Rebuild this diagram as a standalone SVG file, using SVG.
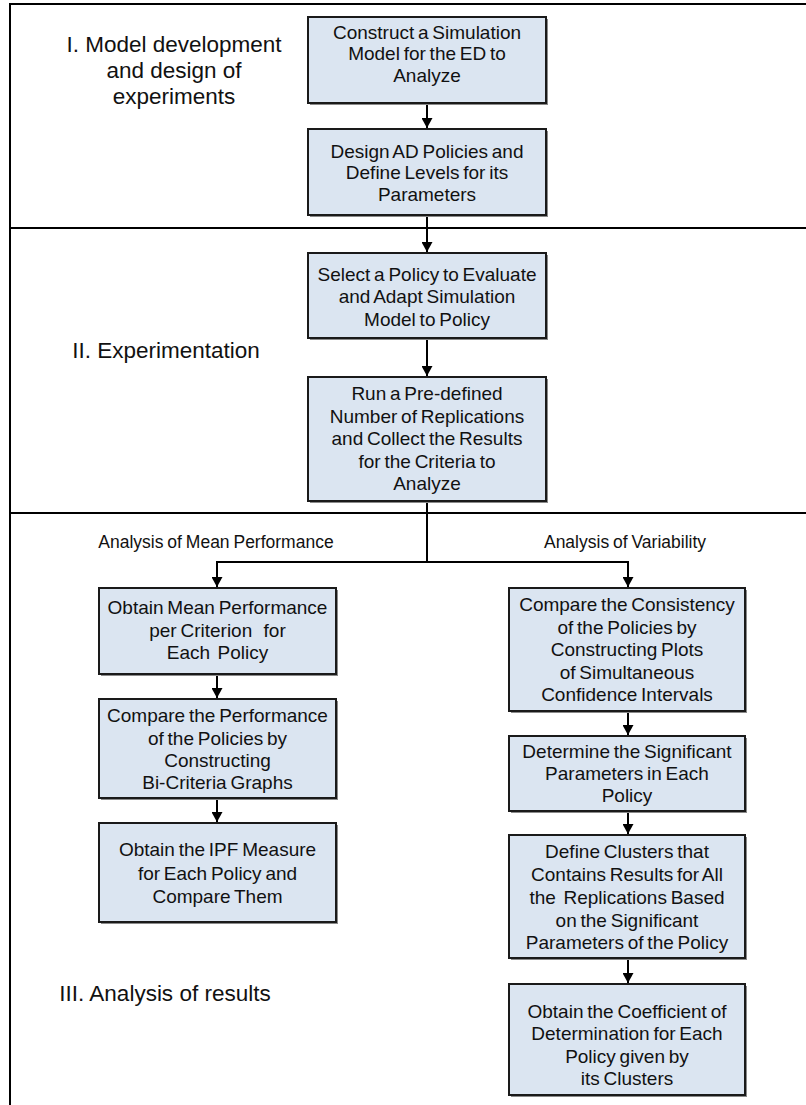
<svg xmlns="http://www.w3.org/2000/svg" width="806" height="1105" viewBox="0 0 806 1105">
  <defs>
    <marker id="arrow" viewBox="0 0 10 11" refX="10" refY="5.5" markerWidth="10" markerHeight="11" markerUnits="userSpaceOnUse" orient="auto">
      <path d="M0,0 L10,5.5 L0,11 Z" fill="#000"/>
    </marker>
    <style>
      .frame { stroke: #000; stroke-width: 2; fill: none; }
      .box { fill: #dbe5f1; stroke: #1a1a1a; stroke-width: 2; }
      .shadow { fill: #8a8a8a; }
      .txt { font-family: "Liberation Sans", Arial, sans-serif; font-size: 19px; word-spacing: -1.5px; fill: #111; text-anchor: middle; }
      .phase { font-family: "Liberation Sans", Arial, sans-serif; font-size: 22.5px; fill: #111; text-anchor: middle; }
      .sub { font-family: "Liberation Sans", Arial, sans-serif; font-size: 17.5px; word-spacing: -1px; fill: #111; text-anchor: middle; }
      .conn { stroke: #000; stroke-width: 2; fill: none; }
    </style>
  </defs>

  <rect width="806" height="1105" fill="#fff"/>

  <!-- outer frame and phase dividers -->
  <g id="frame">
    <line class="frame" x1="10" y1="4" x2="806" y2="4"/>
    <line class="frame" x1="10" y1="3" x2="10" y2="1105"/>
    <line class="frame" x1="9" y1="228" x2="806" y2="228"/>
    <line class="frame" x1="9" y1="513" x2="806" y2="513"/>
  </g>

  <!-- phase labels -->
  <g id="phase-1">
    <text class="phase" x="174" y="52">I. Model development</text>
    <text class="phase" x="174" y="78">and design of</text>
    <text class="phase" x="174" y="104">experiments</text>
  </g>
  <g id="phase-2">
    <text class="phase" x="166" y="358">II. Experimentation</text>
  </g>
  <g id="phase-3">
    <text class="phase" x="165" y="1001">III. Analysis of results</text>
  </g>
  <g id="branch-labels">
    <text class="sub" x="216" y="548">Analysis of Mean Performance</text>
    <text class="sub" x="625" y="548">Analysis of Variability</text>
  </g>

  <!-- connectors -->
  <g id="connectors">
    <line class="conn" x1="427" y1="103" x2="427" y2="128" marker-end="url(#arrow)"/>
    <line class="conn" x1="427" y1="215" x2="427" y2="252" marker-end="url(#arrow)"/>
    <line class="conn" x1="427" y1="338" x2="427" y2="376" marker-end="url(#arrow)"/>
    <polyline class="conn" points="427,501 427,562"/>
    <polyline class="conn" points="217,562 628,562"/>
    <line class="conn" x1="217" y1="561" x2="217" y2="587" marker-end="url(#arrow)"/>
    <line class="conn" x1="628" y1="561" x2="628" y2="587" marker-end="url(#arrow)"/>
    <line class="conn" x1="217" y1="674" x2="217" y2="698" marker-end="url(#arrow)"/>
    <line class="conn" x1="217" y1="798" x2="217" y2="822" marker-end="url(#arrow)"/>
    <line class="conn" x1="628" y1="711" x2="628" y2="735" marker-end="url(#arrow)"/>
    <line class="conn" x1="628" y1="811" x2="628" y2="834" marker-end="url(#arrow)"/>
    <line class="conn" x1="628" y1="958" x2="628" y2="983" marker-end="url(#arrow)"/>
  </g>

  <!-- phase I -->
  <g id="construct-model">
    <rect class="shadow" x="310" y="19" width="238" height="86"/>
    <rect class="box" x="308" y="17" width="238" height="86"/>
    <text class="txt" x="427" y="38.5">Construct a Simulation</text>
    <text class="txt" x="427" y="59.5">Model for the ED to</text>
    <text class="txt" x="427" y="81.5">Analyze</text>
  </g>
  <g id="design-policies">
    <rect class="shadow" x="310" y="131" width="238" height="86"/>
    <rect class="box" x="308" y="129" width="238" height="86"/>
    <text class="txt" x="427" y="158">Design AD Policies and</text>
    <text class="txt" x="427" y="179">Define Levels for its</text>
    <text class="txt" x="427" y="201">Parameters</text>
  </g>

  <!-- phase II -->
  <g id="select-policy">
    <rect class="shadow" x="310" y="255" width="238" height="85"/>
    <rect class="box" x="308" y="253" width="238" height="85"/>
    <text class="txt" x="427" y="281">Select a Policy to Evaluate</text>
    <text class="txt" x="427" y="303">and Adapt Simulation</text>
    <text class="txt" x="427" y="326">Model to Policy</text>
  </g>
  <g id="run-replications">
    <rect class="shadow" x="310" y="379" width="238" height="124"/>
    <rect class="box" x="308" y="377" width="238" height="124"/>
    <text class="txt" x="427" y="400">Run a Pre-defined</text>
    <text class="txt" x="427" y="422.5">Number of Replications</text>
    <text class="txt" x="427" y="445">and Collect the Results</text>
    <text class="txt" x="427" y="467.5">for the Criteria to</text>
    <text class="txt" x="427" y="490">Analyze</text>
  </g>

  <!-- phase III: mean performance -->
  <g id="mean-performance">
    <rect class="shadow" x="101" y="590" width="237" height="86"/>
    <rect class="box" x="99" y="588" width="237" height="86"/>
    <text class="txt" x="217.5" y="614">Obtain Mean Performance</text>
    <text class="txt" x="217.5" y="637" xml:space="preserve">per Criterion   for</text>
    <text class="txt" x="217.5" y="659" xml:space="preserve">Each  Policy</text>
  </g>
  <g id="bi-criteria">
    <rect class="shadow" x="101" y="701" width="237" height="99"/>
    <rect class="box" x="99" y="699" width="237" height="99"/>
    <text class="txt" x="217.5" y="722">Compare the Performance</text>
    <text class="txt" x="217.5" y="745">of the Policies by</text>
    <text class="txt" x="217.5" y="767">Constructing</text>
    <text class="txt" x="217.5" y="789">Bi-Criteria Graphs</text>
  </g>
  <g id="ipf-measure">
    <rect class="shadow" x="101" y="825" width="237" height="99"/>
    <rect class="box" x="99" y="823" width="237" height="99"/>
    <text class="txt" x="217.5" y="856">Obtain the IPF Measure</text>
    <text class="txt" x="217.5" y="880">for Each Policy and</text>
    <text class="txt" x="217.5" y="903">Compare Them</text>
  </g>

  <!-- phase III: variability -->
  <g id="consistency">
    <rect class="shadow" x="511" y="590" width="236" height="123"/>
    <rect class="box" x="509" y="588" width="236" height="123"/>
    <text class="txt" x="627" y="611">Compare the Consistency</text>
    <text class="txt" x="627" y="634">of the Policies by</text>
    <text class="txt" x="627" y="656">Constructing Plots</text>
    <text class="txt" x="627" y="679">of Simultaneous</text>
    <text class="txt" x="627" y="701">Confidence Intervals</text>
  </g>
  <g id="significant-parameters">
    <rect class="shadow" x="511" y="738" width="236" height="75"/>
    <rect class="box" x="509" y="736" width="236" height="75"/>
    <text class="txt" x="627" y="758">Determine the Significant</text>
    <text class="txt" x="627" y="780">Parameters in Each</text>
    <text class="txt" x="627" y="802">Policy</text>
  </g>
  <g id="define-clusters">
    <rect class="shadow" x="511" y="837" width="236" height="123"/>
    <rect class="box" x="509" y="835" width="236" height="123"/>
    <text class="txt" x="627" y="858">Define Clusters that</text>
    <text class="txt" x="627" y="881">Contains Results for All</text>
    <text class="txt" x="627" y="904" xml:space="preserve">the  Replications Based</text>
    <text class="txt" x="627" y="927">on the Significant</text>
    <text class="txt" x="627" y="949">Parameters of the Policy</text>
  </g>
  <g id="coefficient">
    <rect class="shadow" x="511" y="986" width="236" height="111"/>
    <rect class="box" x="509" y="984" width="236" height="111"/>
    <text class="txt" x="627" y="1018">Obtain the Coefficient of</text>
    <text class="txt" x="627" y="1040">Determination for Each</text>
    <text class="txt" x="627" y="1063">Policy given by</text>
    <text class="txt" x="627" y="1085">its Clusters</text>
  </g>
</svg>
